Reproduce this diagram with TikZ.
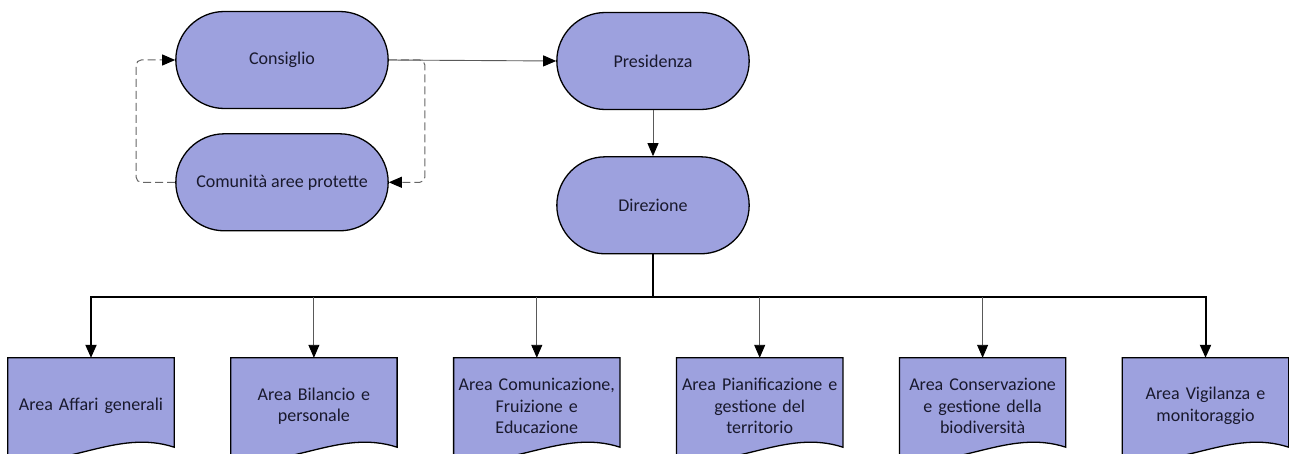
\documentclass[tikz,border=0pt]{standalone}
\usepackage{fontspec}
\setmainfont{Carlito}
\usetikzlibrary{positioning,shapes.misc,arrows.meta,backgrounds}
\definecolor{boxfill}{RGB}{157,161,222}
\definecolor{boxtext}{RGB}{25,25,45}

\begin{document}
\begin{tikzpicture}[x=1pt, y=-1pt,
    font=\fontsize{18}{21.5}\selectfont,
    stadium/.style={rounded rectangle, draw=black, fill=boxfill, line width=1.3pt, text=boxtext, minimum width=219pt, minimum height=97pt},
    stadiumb/.style={stadium, minimum width=199pt},
    docnode/.style={rectangle, text=boxtext, minimum width=166pt, minimum height=96pt, text width=166pt, align=center, inner sep=0pt},
    docshape/.style={draw=black, fill=boxfill, line width=1.3pt},
    tip/.style={-{Triangle[length=13pt,width=11pt,color=black]}},
    thinline/.style={tip, draw=black!65, line width=0.9pt},
    busline/.style={tip, draw=black, line width=2pt},
    dashline/.style={tip, draw=black!60, line width=1pt, dash pattern=on 8pt off 4pt, rounded corners=5pt}
   ]
   \useasboundingbox (0,0) rectangle (1289,454);
   \node[stadium]    (consiglio)    at (282,60)                {Consiglio};
   \node[stadium]    (comunita)     [below=24pt of consiglio]  {Comunità aree protette};
   \node[stadiumb]   (presidenza)   at (653,61)                {Presidenza};
   \node[stadiumb]   (direzione)    [below=46pt of presidenza] {Direzione};
   \coordinate[below=43pt of direzione] (bus);
   \node[docnode] (affari)       at (91,406)                  {Area Affari generali};
   \node[docnode] (bilancio)     [right=56.5pt of affari]       {Area Bilancio e\\ personale};
   \node[docnode] (comunicazione) [right=56.5pt of bilancio]  {Area Comunicazione,\\ Fruizione e\\ Educazione};
   \node[docnode] (pianificazione) [right=56.5pt of comunicazione] {Area Pianificazione e\\ gestione del\\ territorio};
   \node[docnode] (conservazione) [right=56.5pt of pianificazione] {Area Conservazione\\ e gestione della\\ biodiversità};
   \node[docnode] (vigilanza)    [right=56.5pt of conservazione] {Area Vigilanza e\\ monitoraggio};

  \begin{scope}[on background layer]
   \foreach \n in {affari,bilancio,comunicazione,pianificazione,conservazione,vigilanza}
     \path[docshape] (\n.north west) -- (\n.north east) -- ([yshift=7pt]\n.south east)
       .. controls ([xshift=-58pt,yshift=26pt]\n.south east) and ([xshift=58pt,yshift=-16pt]\n.south west) .. ([yshift=-4pt]\n.south west) -- cycle;
  \end{scope}

  \draw[thinline] (consiglio.east) -- (presidenza.west);
  \draw[dashline] (consiglio.east) -- ++(36,0) |- (comunita.east);
  \draw[dashline] (comunita.west) -- ++(-39,0) |- (consiglio.west);
  \draw[thinline] (presidenza.south) -- (direzione.north);
  \draw[busline] (direzione.south) -- (bus) -| (affari.north);
  \draw[busline] (bus) -| (vigilanza.north);
  \draw[thinline] (bus -| bilancio.north) -- (bilancio.north);
  \draw[thinline] (bus -| comunicazione.north) -- (comunicazione.north);
  \draw[thinline] (bus -| pianificazione.north) -- (pianificazione.north);
  \draw[thinline] (bus -| conservazione.north) -- (conservazione.north);
 \end{tikzpicture}
\end{document}
